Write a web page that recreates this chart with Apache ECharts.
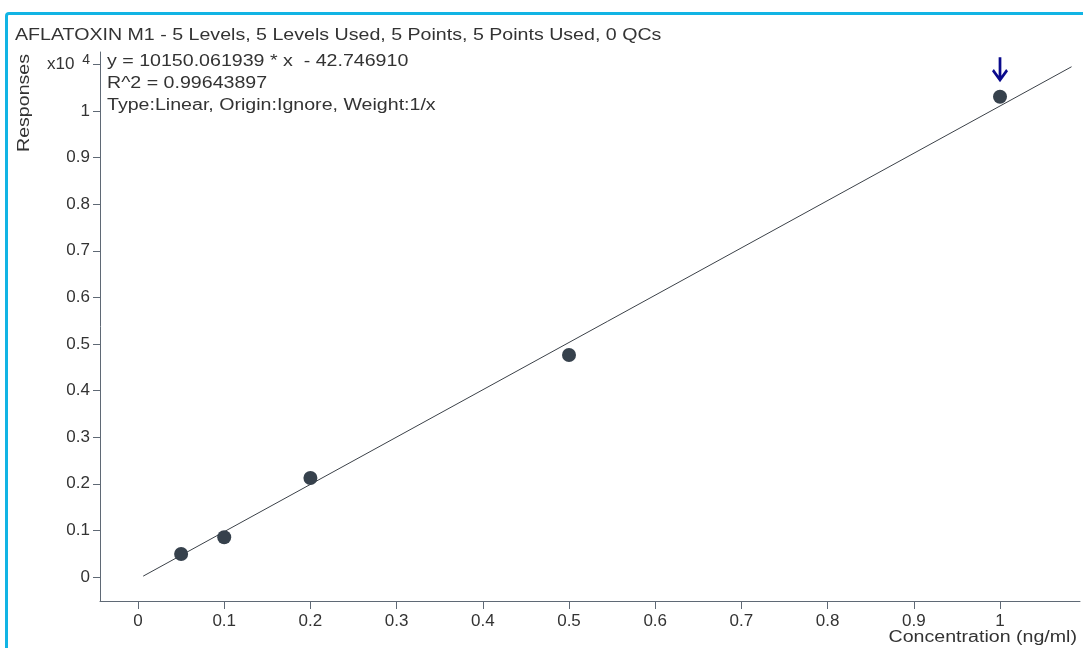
<!DOCTYPE html>
<html>
<head>
<meta charset="utf-8">
<script src="https://cdn.jsdelivr.net/npm/echarts@6/dist/echarts.min.js"></script>
<style>
  html, body { margin: 0; padding: 0; background: #ffffff; }
  #wrap { position: relative; width: 1083px; height: 648px; overflow: hidden; }
  #chart { position: absolute; left: 0; top: 0; width: 1083px; height: 648px; }
  #frame {
    position: absolute; left: 5px; top: 12px; width: 1200px; height: 800px;
    border-top: 3px solid #12b4e4; border-left: 3px solid #12b4e4;
    border-top-left-radius: 4px; pointer-events: none;
  }
</style>
</head>
<body>
<div id="wrap">
  <div id="chart"></div>
  <div id="frame"></div>
</div>
<script>
// Calibration standards: concentration (ng/ml) and measured responses
const concentrations = [0.05, 0.1, 0.2, 0.5, 1.0];
const responses = [494, 852, 2124, 4764, 10307];

// Fitted calibration curve (linear, weight 1/x)
const slope = 10150.061939;
const intercept = -42.746910;
const rSquared = 0.99643897;
const fitRange = [0.006, 1.083];

// Axis ticks
const xTicks = [0, 0.1, 0.2, 0.3, 0.4, 0.5, 0.6, 0.7, 0.8, 0.9, 1];
const yTicks = [0, 1000, 2000, 3000, 4000, 5000, 6000, 7000, 8000, 9000, 10000, 11000];
const yTickLabels = ['0', '0.1', '0.2', '0.3', '0.4', '0.5', '0.6', '0.7', '0.8', '0.9', '1', 'x10 {sup|4}'];

const titleText = 'AFLATOXIN M1 - 5 Levels, 5 Levels Used, 5 Points, 5 Points Used, 0 QCs';
const equationLines = [
  'y = ' + slope.toFixed(6) + ' * x  - ' + Math.abs(intercept).toFixed(6),
  'R^2 = ' + rSquared.toFixed(8),
  'Type:Linear, Origin:Ignore, Weight:1/x'
];
const xAxisTitle = 'Concentration (ng/ml)';
const yAxisTitle = 'Responses';

const FONT = 'Liberation Sans, Arial, sans-serif';
const TEXT = '#333333';
const AXIS = '#5f6975';
const WIDE = 1.225; // horizontal stretch used for the header and axis titles

const chart = echarts.init(document.getElementById('chart'), null, { renderer: 'canvas' });

const pointData = concentrations.map((c, i) => [c, responses[i]]);
const fitData = fitRange.map(x => [x, slope * x + intercept]);
const flagged = pointData[pointData.length - 1];

const arrowPath = 'path://M-1.7,0 L1.7,0 L1.7,18.6 L7.7,11.8 L10,14 L0,25 L-10,14 L-7.7,11.8 L-1.7,18.6 Z';

function label(text, x, y, align, extra) {
  return Object.assign({
    type: 'text', x: x, y: y, scaleX: WIDE,
    style: { text: text, fill: TEXT, font: '16px ' + FONT, align: align, verticalAlign: 'middle' }
  }, extra || {});
}

chart.setOption({
  animation: false,
  textStyle: { fontFamily: FONT },
  grid: { left: 100, right: 3, top: 52, bottom: 47, containLabel: false },
  xAxis: {
    type: 'value',
    min: -0.0441,
    max: 1.0928,
    splitLine: { show: false },
    axisLine: { show: true, onZero: false, lineStyle: { color: AXIS, width: 1 } },
    axisTick: { show: true, length: 8, lineStyle: { color: AXIS }, customValues: xTicks },
    axisLabel: {
      color: TEXT, fontSize: 17, fontFamily: FONT, margin: 12,
      customValues: xTicks,
      formatter: v => String(v)
    }
  },
  yAxis: {
    type: 'value',
    min: -515,
    max: 11266,
    splitLine: { show: false },
    axisLine: { show: true, onZero: false, lineStyle: { color: AXIS, width: 1 } },
    axisTick: { show: true, length: 7, lineStyle: { color: AXIS }, customValues: yTicks },
    axisLabel: {
      color: TEXT, fontSize: 17, fontFamily: FONT, margin: 10,
      customValues: yTicks,
      formatter: v => {
        const i = yTicks.indexOf(Math.round(v));
        return i >= 0 ? yTickLabels[i] : '';
      },
      rich: {
        sup: { fontSize: 14, verticalAlign: 'top', padding: [0, 0, 8, 3], color: TEXT, fontFamily: FONT }
      }
    }
  },
  graphic: [
    label(titleText, 15, 36, 'left'),
    label(equationLines[0], 107, 62, 'left'),
    label(equationLines[1], 107, 84, 'left'),
    label(equationLines[2], 107, 106, 'left'),
    label(yAxisTitle, 25, 103, 'center', { rotation: Math.PI / 2 }),
    label(xAxisTitle, 1077, 638, 'right')
  ],
  series: [
    {
      type: 'line',
      data: fitData,
      showSymbol: false,
      symbol: 'none',
      lineStyle: { color: '#3b4148', width: 1 },
      z: 2
    },
    {
      type: 'scatter',
      data: pointData,
      symbol: 'circle',
      symbolSize: 14,
      itemStyle: { color: '#36414c', opacity: 1 },
      z: 3,
      markPoint: {
        symbol: arrowPath,
        symbolSize: [20, 25],
        symbolKeepAspect: true,
        symbolOffset: [0, -27],
        itemStyle: { color: '#0a0a8c' },
        label: { show: false },
        data: [{ coord: flagged }]
      }
    }
  ]
});
</script>
</body>
</html>
